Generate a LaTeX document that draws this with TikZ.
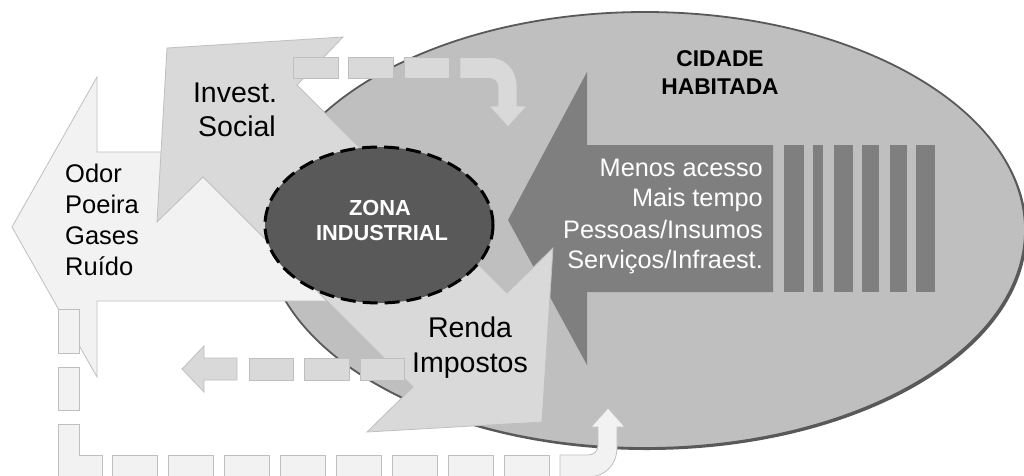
\documentclass[tikz,border=0pt]{standalone}
\usepackage{fontspec}
\setmainfont{Liberation Sans}
\definecolor{cityfill}{HTML}{BFBFBF}
\definecolor{cityline}{HTML}{595959}
\definecolor{darkarrow}{HTML}{7F7F7F}
\definecolor{midgray}{HTML}{D9D9D9}
\definecolor{lightgray}{HTML}{F2F2F2}
\definecolor{edgegray}{HTML}{BFBFBF}
\definecolor{zonafill}{HTML}{595959}
\tikzset{
  midshape/.style={fill=midgray, draw=edgegray, line width=0.8pt, line join=miter},
  lightshape/.style={fill=lightgray, draw=edgegray, line width=0.8pt, line join=miter},
  darkshape/.style={fill=darkarrow, draw=none},
  lbl/.style={inner sep=0pt, text=black},
  bigtxt/.style={lbl, font=\fontsize{28.5}{34}\selectfont},
  medtxt/.style={lbl, font=\fontsize{25.5}{30}\selectfont},
  whitetxt/.style={lbl, text=white, font=\fontsize{25.3}{30}\selectfont},
  titletxt/.style={lbl, font=\bfseries\fontsize{22.8}{27}\selectfont},
  zonatxt/.style={lbl, text=white, font=\bfseries\fontsize{21.8}{25}\selectfont}
}
\begin{document}
\begin{tikzpicture}[x=1pt,y=-1pt]
\useasboundingbox (0,0) rectangle (1024,475);
\fill[white] (0,0) rectangle (1024,475);

% city ellipse with shadow
\fill[cityline] (647,232) ellipse [x radius=380pt, y radius=218pt];
\draw[fill=cityfill, draw=cityline, line width=1.8pt] (645,230) ellipse [x radius=380pt, y radius=218pt];

% dark arrow from city
\path[darkshape] (508,220) -- (587,72) -- (587,145) -- (773,145) -- (773,292) -- (587,292) -- (587,365) -- cycle;
\foreach \a/\b in {784/804, 813/823, 834/853, 862/879, 890/907, 916/935}
  \fill[darkarrow] (\a,145) rectangle (\b,292);

% Odor arrow (left)
\path[lightshape] (12,227) -- (97,77) -- (97,152) -- (380,152) -- (380,301) -- (97,301) -- (97,377) -- cycle;

% Renda arrow (to lower right)
\path[midshape] (542,422) -- (367,432) -- (413,387) -- (303,277) -- (397,183) -- (507,293) -- (553,248) -- cycle;

% Invest arrow (to upper left)
\path[midshape] (167,48) -- (343,37) -- (297,85) -- (397,185) -- (303,277) -- (203,177) -- (157,222) -- cycle;

% Zona industrial
\draw[fill=zonafill, draw=black, line width=3pt, dash pattern=on 15pt off 7pt] (379,225) ellipse [x radius=114pt, y radius=78pt];

% top dashed arrow
\foreach \a in {293,348.5,404}
  \path[midshape] (\a,57.5) rectangle ++(45,21);
\path[midshape] (460,57.5) -- (490,57.5) .. controls (506,57.5) and (517,70) .. (517,86) -- (517,106) -- (527,106) -- (508,127) -- (489,106) -- (498,106) -- (498,87) .. controls (498,82) and (494,78.5) .. (490,78.5) -- (460,78.5) -- cycle;

% middle dashed arrow
\foreach \a in {249,304.5,360}
  \path[midshape] (\a,358) rectangle ++(44.5,22);
\path[midshape] (182,369) -- (204,346) -- (204,358) -- (237,358) -- (237,380) -- (204,380) -- (204,392) -- cycle;

% bottom dashed L-arrow
\path[lightshape] (58,309) rectangle (79,353);
\path[lightshape] (58,367) rectangle (79,410);
\path[lightshape] (58,424) -- (79,424) -- (79,455) -- (102,455) -- (102,477) -- (58,477) -- cycle;
\foreach \i in {0,...,7}
  \path[lightshape] (112+56.1*\i,455) rectangle ++(45,22);
\path[lightshape] (560,455) -- (588,455) .. controls (594,455) and (598,451) .. (598,445) -- (598,427) -- (591,427) -- (608,408) -- (625,427) -- (617,427) -- (617,447) .. controls (617,465) and (605,477) .. (587,477) -- (560,477) -- cycle;

% texts
\node[medtxt, anchor=base west] (odor1) at (65,182) {Odor};
\node[medtxt, anchor=base west] (odor2) at (65,213) {Poeira};
\node[medtxt, anchor=base west] (odor3) at (65,244) {Gases};
\node[medtxt, anchor=base west] (odor4) at (65,275) {Ruído};

\node[bigtxt, anchor=base] (inv1) at (235,102) {Invest.};
\node[bigtxt, anchor=base] (inv2) at (237,136) {Social};

\node[bigtxt, anchor=base] (ren1) at (470,337) {Renda};
\node[bigtxt, anchor=base] (ren2) at (470,372) {Impostos};

\node[whitetxt, anchor=base east] (cid1) at (763,176.7) {Menos acesso};
\node[whitetxt, anchor=base east] (cid2) at (763,206.7) {Mais tempo};
\node[whitetxt, anchor=base east] (cid3) at (763,238.3) {Pessoas/Insumos};
\node[whitetxt, anchor=base east] (cid4) at (763,268.3) {Serviços/Infraest.};

\node[titletxt, anchor=base] (tit1) at (720,66) {CIDADE};
\node[titletxt, anchor=base] (tit2) at (720,94) {HABITADA};

\node[zonatxt, anchor=base] (zon1) at (380,215) {ZONA};
\node[zonatxt, anchor=base] (zon2) at (382,240) {INDUSTRIAL};
\end{tikzpicture}
\end{document}
